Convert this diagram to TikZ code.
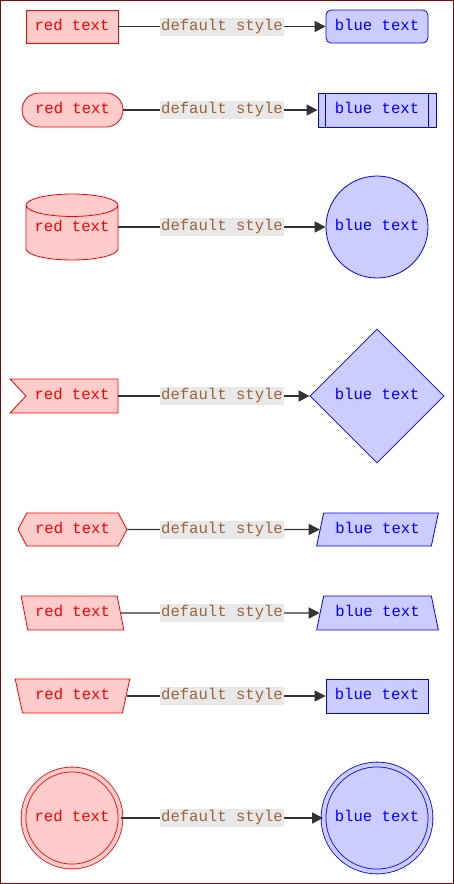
\documentclass[tikz,border=0pt]{standalone}
\usepackage{fontspec}
\setmonofont{Liberation Mono}
\usetikzlibrary{arrows.meta,shapes.geometric,shapes.symbols,shapes.misc}
\definecolor{redfill}{RGB}{255,204,204}
\definecolor{bluefill}{RGB}{204,204,255}
\definecolor{labeltext}{RGB}{155,100,60}
\definecolor{labelbg}{RGB}{232,232,232}
\definecolor{framered}{RGB}{128,10,10}
\definecolor{linkgray}{RGB}{51,51,51}
\tikzset{
  boxfont/.style={font=\ttfamily\fontsize{15.6}{18}\selectfont, text height=10pt, text depth=3pt},
  redbox/.style={boxfont, draw=red, fill=redfill, text=red, line width=0.8pt, inner sep=0pt, minimum height=33pt},
  bluebox/.style={boxfont, draw=blue, fill=bluefill, text=blue, line width=0.8pt, inner sep=0pt, minimum height=33pt},
  link/.style={draw=linkgray, line width=1.3pt, -{Triangle[length=11pt,width=11pt]}},
  linklabel/.style={boxfont, fill=labelbg, text=labeltext, inner xsep=1pt, inner ysep=0pt, minimum height=18pt}
}
\begin{document}
\begin{tikzpicture}[x=1pt,y=-1pt]
\useasboundingbox (0,0) rectangle (454,884);
\draw[framered, line width=1pt] (0.5,0.5) rectangle (453.5,883.5);
% row 1
\node[redbox, rectangle, minimum width=92pt] (r1) at (72,26.5) {red text};
\node[bluebox, rectangle, rounded corners=5pt, minimum width=102pt] (b1) at (377,26.5) {blue text};
% row 2
\node[redbox, rounded rectangle, minimum width=101pt, minimum height=34pt] (r2) at (72.5,110) {red text};
\node[bluebox, rectangle, minimum width=118pt, minimum height=34pt] (b2) at (377,110) {blue text};
\draw[blue, line width=0.8pt] ([xshift=8pt]b2.north west) -- ([xshift=8pt]b2.south west);
\draw[blue, line width=0.8pt] ([xshift=-8pt]b2.north east) -- ([xshift=-8pt]b2.south east);
% row 3
\node[redbox, cylinder, shape border rotate=90, aspect=0.3, minimum width=92pt, minimum height=66pt, anchor=shape center] (r3) at (72,227) {\raisebox{5pt}{red text}};
\node[bluebox, circle, minimum size=102pt] (b3) at (377,227) {blue text};
% row 4
\node[redbox, signal, signal from=west, signal to=nowhere, signal pointer angle=94, minimum width=108pt, minimum height=34pt] (r4) at (72,396) {red text};
\node[bluebox, diamond, aspect=1, minimum width=134pt, minimum height=134pt] (b4) at (377,396) {blue text};
% row 5
\node[redbox, signal, signal to=west and east, signal pointer angle=124, minimum width=109pt] (r5) at (72.5,529.5) {red text};
\node[bluebox, trapezium, trapezium left angle=67, trapezium right angle=113, trapezium stretches=true, minimum width=123pt] (b5) at (377.5,529.5) {blue text};
% row 6
\node[redbox, trapezium, trapezium left angle=113, trapezium right angle=67, trapezium stretches=true, minimum width=103pt, minimum height=34pt] (r6) at (72.5,613) {red text};
\node[bluebox, trapezium, trapezium left angle=67, trapezium right angle=67, trapezium stretches=true, minimum width=123pt, minimum height=34pt] (b6) at (377.5,613) {blue text};
% row 7
\node[redbox, trapezium, shape border rotate=180, trapezium left angle=67, trapezium right angle=67, trapezium stretches=true, minimum width=115pt, minimum height=34pt] (r7) at (72.5,696) {red text};
\node[bluebox, rectangle, minimum width=102pt, minimum height=34pt] (b7) at (377,696) {blue text};
% row 8
\node[redbox, circle, double=redfill, double distance=4pt, minimum size=97pt] (r8) at (72,818) {red text};
\node[bluebox, circle, double=bluefill, double distance=4pt, minimum size=107pt] (b8) at (377,818) {blue text};
% links
\foreach \i in {1,...,8}{
  \draw[link] (r\i.east |- b\i) -- (b\i);
}
\foreach \i/\y in {1/26.5,2/110,3/227,4/396,5/529.5,6/613,7/696,8/818}{
  \node[linklabel] (l\i) at (222,\y) {default style};
}
\end{tikzpicture}
\end{document}
